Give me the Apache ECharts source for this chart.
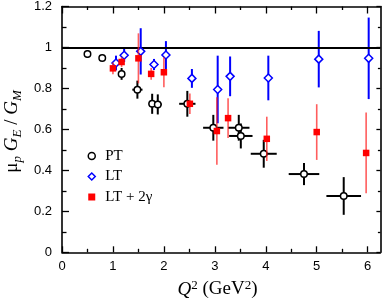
<!DOCTYPE html>
<html><head><meta charset="utf-8">
<script src="https://cdn.jsdelivr.net/npm/echarts@6/dist/echarts.min.js"></script>
<style>html,body{margin:0;padding:0;background:#fff}#c{width:384px;height:300px}</style>
</head><body><div id="c"></div>
<script>
// ---- data ----
const ptX    = [0.50, 0.79, 1.17, 1.48, 1.77, 1.88, 2.46, 2.97, 3.47, 3.51, 3.96, 4.75, 5.53];
const ptY    = [0.968, 0.949, 0.871, 0.794, 0.725, 0.722, 0.725, 0.608, 0.608, 0.568, 0.481, 0.382, 0.275];
const ptXErr = [0, 0, 0, 0.10, 0.07, 0.08, 0.16, 0.20, 0.21, 0.23, 0.255, 0.30, 0.34];
const ptYErr = [0.019, 0.015, 0.029, 0.044, 0.049, 0.049, 0.063, 0.063, 0.063, 0.061, 0.068, 0.054, 0.092];

const ltX    = [1.06, 1.22, 1.545, 1.806, 2.04, 2.55, 3.056, 3.30, 4.05, 5.04, 6.02];
const ltY    = [0.924, 0.962, 0.981, 0.917, 0.963, 0.849, 0.795, 0.859, 0.851, 0.943, 0.947];
const ltYErr = [0.036, 0.033, 0.113, 0.027, 0.068, 0.046, 0.165, 0.097, 0.109, 0.138, 0.199];

const tpeX    = [1.00, 1.17, 1.50, 1.75, 2.00, 2.51, 3.04, 3.26, 4.02, 5.00, 5.97];
const tpeY    = [0.898, 0.929, 0.947, 0.871, 0.879, 0.725, 0.592, 0.655, 0.554, 0.587, 0.485];
const tpeYErr = [0.029, 0.024, 0.122, 0.029, 0.073, 0.050, 0.165, 0.097, 0.108, 0.136, 0.197];

const seriesNames = ['PT', 'LT', 'LT + 2γ'];
const xTicks = [0, 1, 2, 3, 4, 5, 6];
const xMinorTicks = [0.5, 1.5, 2.5, 3.5, 4.5, 5.5];
const yTicks = [0, 0.2, 0.4, 0.6, 0.8, 1, 1.2];
const yTickLabels = ['0', '0.2', '0.4', '0.6', '0.8', '1', '1.2'];
const refLine = 1;

// ---- build ----
const ptData = ptX.map((x, i) => [x, ptY[i], ptXErr[i], ptYErr[i]]);
const ltData = ltX.map((x, i) => [x, ltY[i], 0, ltYErr[i]]);
const tpeData = tpeX.map((x, i) => [x, tpeY[i], 0, tpeYErr[i]]);

function errSeries(name, data, color, width, z) {
  return {
    type: 'custom', name: name, data: data, z: z, silent: true,
    xAxisIndex: 0, yAxisIndex: 0,
    encode: { x: 0, y: 1 },
    renderItem: function (params, api) {
      const x = api.value(0), y = api.value(1), xe = api.value(2), ye = api.value(3);
      const children = [];
      if (ye > 0) {
        const a = api.coord([x, y - ye]), b = api.coord([x, y + ye]);
        children.push({ type: 'line', shape: { x1: a[0], y1: a[1], x2: b[0], y2: b[1] },
          style: { stroke: color, lineWidth: width } });
      }
      if (xe > 0) {
        const a = api.coord([x - xe, y]), b = api.coord([x + xe, y]);
        children.push({ type: 'line', shape: { x1: a[0], y1: a[1], x2: b[0], y2: b[1] },
          style: { stroke: color, lineWidth: width } });
      }
      return { type: 'group', children: children };
    }
  };
}

const sans = 'Liberation Sans';
const serif = 'Liberation Serif';
const XMAX = 6.25;

function xAx(pos, ticks, len, showLine, showLabel) {
  return {
    type: 'value', min: 0, max: XMAX, position: pos,
    axisLine: { show: showLine, onZero: false, lineStyle: { color: '#000', width: 1.6 } },
    axisTick: { show: true, inside: true, length: len, customValues: ticks, lineStyle: { color: '#000', width: 1.3 } },
    axisLabel: showLabel ? { show: true, customValues: xTicks, fontFamily: sans, fontSize: 13, color: '#000', margin: 8 } : { show: false },
    splitLine: { show: false }
  };
}

const option = {
  animation: false,
  backgroundColor: '#fff',
  grid: { left: 62, right: 3.6, top: 5.5, bottom: 47.7, containLabel: false },
  xAxis: [
    xAx('bottom', xTicks, 6, true, true),
    xAx('bottom', xMinorTicks, 3.5, false, false),
    xAx('top', xTicks, 7, true, false),
    xAx('top', xMinorTicks, 3.5, false, false)
  ],
  yAxis: [
    {
      type: 'value', min: 0, max: 1.2, interval: 0.2, position: 'left',
      axisLine: { show: true, onZero: false, lineStyle: { color: '#000', width: 1.6 } },
      axisTick: { show: true, inside: true, length: 7, lineStyle: { color: '#000', width: 1.3 } },
      minorTick: { show: true, splitNumber: 2, length: 4.5, lineStyle: { color: '#000', width: 1.3 } },
      axisLabel: { customValues: yTicks, formatter: v => yTickLabels[yTicks.findIndex(t => Math.abs(t - v) < 1e-9)],
                   fontFamily: sans, fontSize: 13, color: '#000', margin: 10 },
      splitLine: { show: false }, minorSplitLine: { show: false }
    },
    {
      type: 'value', min: 0, max: 1.2, interval: 0.2, position: 'right',
      axisLine: { show: true, onZero: false, lineStyle: { color: '#000', width: 1.6 } },
      axisTick: { show: true, inside: true, length: 4, lineStyle: { color: '#000', width: 1.3 } },
      minorTick: { show: true, splitNumber: 2, length: 2.5, lineStyle: { color: '#000', width: 1.3 } },
      axisLabel: { show: false },
      splitLine: { show: false }, minorSplitLine: { show: false }
    }
  ],
  legend: {
    orient: 'vertical', left: 82.5, top: 143, itemWidth: 7, itemHeight: 7, itemGap: 4.5,
    selectedMode: false,
    textStyle: { fontFamily: serif, fontSize: 15, lineHeight: 16, color: '#000', padding: [0, 0, 0, 5] },
    data: [
      { name: seriesNames[0], icon: 'circle', itemStyle: { color: '#fff', borderColor: '#000', borderWidth: 1.5 } },
      { name: seriesNames[1], icon: 'diamond', itemStyle: { color: '#fff', borderColor: '#0000ff', borderWidth: 1.5 } },
      { name: seriesNames[2], icon: 'rect', itemStyle: { color: '#ff0000', borderWidth: 0 } }
    ]
  },
  series: [
    {
      type: 'line', name: 'ref', data: [], silent: true,
      markLine: { silent: true, symbol: 'none', label: { show: false },
        lineStyle: { color: '#000', width: 2, type: 'solid' }, data: [{ yAxis: refLine }] },
      z: 1
    },
    errSeries('PT err', ptData, '#000', 2, 2),
    { type: 'scatter', name: seriesNames[0], data: ptData, symbol: 'circle', symbolSize: 6.5, z: 3,
      itemStyle: { color: '#fff', borderColor: '#000', borderWidth: 1.5, opacity: 1 } },
    errSeries('LT err', ltData, '#0000ff', 2, 4),
    { type: 'scatter', name: seriesNames[1], data: ltData, symbol: 'diamond', symbolSize: 8, z: 5,
      itemStyle: { color: '#fff', borderColor: '#0000ff', borderWidth: 1.5, opacity: 1 } },
    errSeries('LT2g err', tpeData, 'rgba(255,30,30,0.72)', 1.6, 6),
    { type: 'scatter', name: seriesNames[2], data: tpeData, symbol: 'rect', symbolSize: 6.5, z: 7,
      itemStyle: { color: '#ff0000', opacity: 1 } }
  ],
  graphic: [
    {
      type: 'text', x: 15, y: 131.5, rotation: Math.PI / 2, z: 10,
      style: {
        text: '{n|μ}{s|p}{n| }{i|G}{s|E}{n| / }{i|G}{s|M}',
        align: 'center', verticalAlign: 'middle', fill: '#000',
        rich: {
          n: { fontFamily: serif, fontSize: 19, lineHeight: 19, padding: [0, 0, 3, 0], verticalAlign: 'bottom', fill: '#000' },
          i: { fontFamily: serif, fontSize: 19, fontStyle: 'italic', lineHeight: 19, padding: [0, 0, 3, 0], verticalAlign: 'bottom', fill: '#000' },
          s: { fontFamily: serif, fontSize: 13, fontStyle: 'italic', lineHeight: 13, verticalAlign: 'bottom', fill: '#000' }
        }
      }
    },
    {
      type: 'text', x: 217.5, y: 288.5, z: 10,
      style: {
        text: '{i|Q}{s|2}{n| (GeV}{s|2}{n|)}',
        align: 'center', verticalAlign: 'middle', fill: '#000',
        rich: {
          n: { fontFamily: serif, fontSize: 19, lineHeight: 19, padding: [1, 0, 0, 0], verticalAlign: 'top', fill: '#000' },
          i: { fontFamily: serif, fontSize: 19, fontStyle: 'italic', lineHeight: 19, padding: [1, 0, 0, 0], verticalAlign: 'top', fill: '#000' },
          s: { fontFamily: serif, fontSize: 13, lineHeight: 13, verticalAlign: 'top', fill: '#000' }
        }
      }
    }
  ]
};

const chart = echarts.init(document.getElementById('c'), null, { renderer: 'canvas' });
chart.setOption(option);
</script>
</body></html>
